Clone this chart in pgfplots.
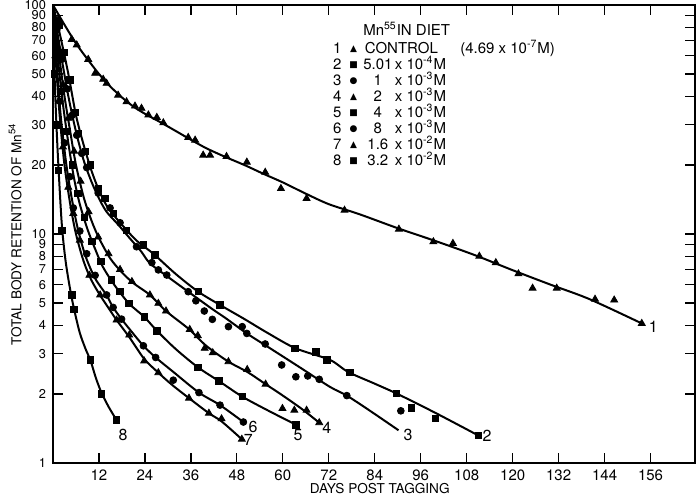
\documentclass[border=0pt]{standalone}
\usepackage{fontspec}
\setmainfont{TeX Gyre Heros}
\newfontfamily\symfont{DejaVu Sans}
\usepackage{pgfplots}
\pgfplotsset{compat=1.18}

\newcommand\ktri{\raisebox{0.6pt}{\symfont\fontsize{4.5}{5}\selectfont ▲}}
\newcommand\ksq{\raisebox{0.6pt}{\symfont\fontsize{4.5}{5}\selectfont ■}}
\newcommand\kdot{\raisebox{0.6pt}{\symfont\fontsize{4.5}{5}\selectfont ●}}
\newcommand\conc[2]{\makebox[13pt][c]{#1}\hspace{2pt}x 10\smash{\textsuperscript{#2}}M}

\pgfplotsset{
  curve/.style={black, line width=1pt, smooth, tension=0.5, no marks},
  tri/.style={only marks, black, mark=triangle*, mark size=2pt},
  sqr/.style={only marks, black, mark=square*, mark size=1.6pt},
  circ/.style={only marks, black, mark=*, mark size=1.7pt},
}

\begin{document}
\begin{tikzpicture}
\useasboundingbox (-26.5pt,-16pt) rectangle (323.5pt,231.5pt);
\begin{axis}[
  at={(0,0)}, anchor=south west,
  scale only axis, width=321pt, height=229pt,
  ymode=log, xmin=0, xmax=167.6, ymin=1, ymax=100,
  xtick={12,24,...,156},
  ytick={1,2,3,4,5,6,7,8,9,10,20,30,40,50,60,70,80,90,100},
  yticklabels={1,2,3,4,5,6,7,8,9,10,20,30,40,50,60,70,80,90,100},
  yminorticks=false,
  tick align=inside, major tick length=5pt,
  axis line style={line width=0.8pt},
  every tick/.style={black, line width=0.6pt},
  x tick label style={font=\fontsize{7.5}{8}\selectfont},
  y tick label style={font=\fontsize{6.4}{7}\selectfont},
  /pgf/number format/assume math mode=true,
  xlabel={DAYS POST TAGGING},
  ylabel={TOTAL BODY RETENTION OF Mn\textsuperscript{54}},
  label style={font=\fontsize{6.8}{8}\selectfont},
  xlabel style={at={(axis description cs:0.509,-0.056)}, anchor=center},
  ylabel style={at={(axis description cs:-0.059,0.5)}, anchor=center},
  clip=false,
]
% 1 control
\addplot[curve] coordinates {(0,100) (3,82) (6,68) (9,58) (12,50) (15,44) (18,39.5) (21,36) (24,33.5) (28,30.8) (32,28.2) (36,25.8) (40,23.7) (45,21.7) (50,20) (55,18.3) (60,16.8) (66,15) (72,13.5) (80,12.2) (90,10.6) (100,9.3) (110,8.1) (120,6.95) (130,6.0) (140,5.2) (153.7,4.07)};
\addplot[tri] coordinates {(1.4,86.5) (4.9,70.8) (6.2,66.9) (9.2,57.9) (11,50.3) (13.1,47.4) (14,45.5) (17,40.4) (19.2,37.8) (21.4,36.2) (23.1,35.4) (24.9,33.1) (27.1,32.3) (28.8,30.6) (35.3,26.4) (37.1,25.7) (39.2,22.1) (41,22.1) (45.3,21.8) (50.6,20.6) (55.4,18.6) (59.5,15.8) (66.2,14.3) (76.1,12.7) (90.3,10.5) (99.3,9.25) (104.4,9.1) (111.3,8.0) (115.6,7.5) (121.5,6.7) (125.2,5.8) (131.5,5.8) (141.5,5.19) (146.5,5.15) (153.7,4.07)};
% 2
\addplot[curve] coordinates {(0,100) (2,72) (4,50) (6,33) (8,24.5) (10,19) (12,15.5) (14,13.3) (16,12) (19,10.5) (22,9.3) (26.2,8.2) (32,6.7) (37.9,5.6) (43.6,4.9) (50,4.25) (56,3.7) (63.3,3.17) (72.3,2.82) (77,2.5) (84,2.22) (90,2.0) (100,1.65) (111,1.32)};
\addplot[sqr] coordinates {(1.5,82) (2.9,62) (4.4,47) (5.7,34) (6.6,27.5) (8.4,23) (9.7,20) (11.8,15.8) (13.6,14.3) (15.7,12.3) (19.2,10.4) (23.6,8.95) (26.6,8.1) (37.9,5.6) (43.6,4.9) (63.2,3.17) (68.6,3.06) (71.5,2.82) (77.5,2.48) (89.7,2.01) (93.6,1.74) (99.9,1.57) (111,1.32)};
% 3
\addplot[curve] coordinates {(0,100) (2,62) (4,40) (6,28) (8,21) (10,17) (12,14.3) (14,12.5) (17,11) (20,9.6) (23,8.4) (25.3,7.45) (30,6.5) (35.3,5.6) (41.6,4.7) (45,4.3) (50.6,3.68) (55.4,3.27) (60,2.92) (65,2.58) (72.3,2.15) (76.7,1.97) (83,1.68) (90.2,1.39)};
\addplot[circ] coordinates {(1,78) (2.4,58) (3.7,43) (5,33) (6.2,27) (7.5,22.5) (8.8,19.5) (11.8,15.1) (14.9,13.0) (17.5,11.2) (21.8,8.8) (25.8,7.5) (27.5,6.97) (29.7,6.62) (35.3,5.6) (37.3,5.11) (39.5,4.61) (41.6,4.24) (45.8,3.94) (49.4,3.94) (50.6,3.68) (55.4,3.31) (59.7,2.68) (63.4,2.38) (66.5,2.40) (69.5,2.32) (76.7,1.97) (90.8,1.69)};
% 4
\addplot[curve] coordinates {(0,100) (1.5,62) (3,40) (4.5,28) (6,20) (8,14.5) (10,11.5) (12,9.6) (15,7.8) (18,6.8) (21,6.1) (25.3,5.42) (29.5,4.61) (35.6,3.83) (40,3.25) (45.8,2.77) (50.7,2.5) (55.5,2.21) (60,1.97) (65,1.72) (69.5,1.5)};
\addplot[tri] coordinates {(1.2,66) (2.6,45) (4,32) (5.5,23) (7.2,17) (9.3,12.5) (11.8,9.7) (14.5,8.2) (17.5,7.0) (20.6,6.2) (25.3,5.42) (27.5,4.98) (29.5,4.61) (35.7,3.83) (37.8,3.6) (39.6,3.17) (41.7,3.03) (45.8,2.77) (50.7,2.56) (55.5,2.21) (59.9,1.73) (63,1.70) (66.2,1.70) (69.5,1.50)};
% 5
\addplot[curve] coordinates {(0,100) (1.2,60) (2.5,38) (4,25) (5.5,17.5) (7,13.5) (9,10.5) (11,8.6) (13,7.2) (16,6) (19.8,4.98) (23.8,4.35) (27,3.8) (32,3.15) (37.8,2.62) (43.3,2.28) (49.4,1.95) (56,1.7) (63.4,1.47)};
\addplot[sqr] coordinates {(1,62) (2.2,42) (3.6,28) (5,20) (6.5,15) (8.2,11.8) (10.2,9.3) (12.5,7.6) (15.3,6.3) (17.5,5.6) (19.8,4.98) (23.8,4.35) (27.1,3.78) (37.8,2.62) (43.3,2.28) (49.4,1.95) (63.4,1.47)};
% 6
\addplot[curve] coordinates {(0,100) (1,55) (2,33) (3.5,20) (5,14) (6.5,10.5) (8.5,8) (11,6.4) (14,5.4) (15.7,4.78) (17.9,4.25) (20.5,3.75) (23.6,3.25) (26.8,2.89) (31.4,2.5) (38.1,2.03) (43.6,1.79) (49.7,1.51)};
\addplot[circ] coordinates {(0.8,58) (1.8,38) (3,25) (4.4,17.8) (5.3,13) (7,10.3) (8.8,8.2) (11,6.6) (14,5.42) (15.7,4.78) (17.9,4.25) (23.6,3.25) (26.8,2.89) (31.4,2.30) (38.1,2.03) (43.6,1.79) (49.7,1.51)};
% 7
\addplot[curve] coordinates {(0,100) (0.8,55) (1.8,32) (3,20) (4.5,13.5) (6,10) (8,7.6) (10,6.3) (12.3,5.4) (14.5,4.75) (16.6,4.21) (19.9,3.55) (23.8,2.85) (27.5,2.48) (31,2.2) (35.5,1.92) (40.7,1.65) (44,1.52) (49.3,1.27)};
\addplot[tri] coordinates {(0.6,60) (1.5,38) (2.6,24) (4,16) (5.3,12.3) (7,9.4) (9.5,6.6) (12.3,5.42) (16.6,4.21) (19.9,3.62) (23.8,2.79) (27.5,2.48) (35.5,1.92) (40.7,1.65) (44,1.56) (49.3,1.27)};
% 8
\addplot[curve] coordinates {(0,100) (0.4,50) (0.9,30) (1.4,20) (2.3,11) (3.3,7.6) (4.5,5.7) (5.5,4.7) (7,3.7) (8.5,3.15) (9.8,2.8) (11.2,2.35) (12.7,2.02) (14.6,1.75) (16.6,1.54)};
\addplot[sqr] coordinates {(0.3,50) (0.8,30) (1.4,19) (2.3,10.4) (4.9,5.42) (5.5,4.7) (9.8,2.82) (12.7,2.0) (16.6,1.54)};

% curve numbers
\begin{scope}[every node/.style={font=\fontsize{8}{9}\selectfont, inner sep=0pt}]
\node at (axis cs:156.7,3.93) {1};
\node at (axis cs:113.3,1.32) {2};
\node at (axis cs:92.7,1.32) {3};
\node at (axis cs:71.5,1.42) {4};
\node at (axis cs:64,1.32) {5};
\node at (axis cs:52.2,1.44) {6};
\node at (axis cs:51,1.26) {7};
\node at (axis cs:18.3,1.32) {8};
\end{scope}

% key
\node[anchor=base west, inner sep=0pt, font=\fontsize{7.5}{8}\selectfont]
  at (axis cs:80.9,73.9) {Mn\textsuperscript{55}IN DIET};
\node[anchor=base west, inner sep=0pt, font=\fontsize{7.5}{8}\selectfont]
  at (axis cs:73.0,61.7) {%
  \begin{tabular}[t]{@{}r@{\hspace{4pt}}c@{\hspace{3.5pt}}l@{}}
  1 & \ktri & CONTROL\hspace{1.5em}(4.69 x 10\smash{\textsuperscript{-7}}M)\\
  2 & \ksq  & \conc{5.01}{-4}\\
  3 & \kdot & \conc{1}{-3}\\
  4 & \ktri & \conc{2}{-3}\\
  5 & \ksq  & \conc{4}{-3}\\
  6 & \kdot & \conc{8}{-3}\\
  7 & \ktri & \conc{1.6}{-2}\\
  8 & \ksq  & \conc{3.2}{-2}
  \end{tabular}};
\end{axis}
\end{tikzpicture}
\end{document}
